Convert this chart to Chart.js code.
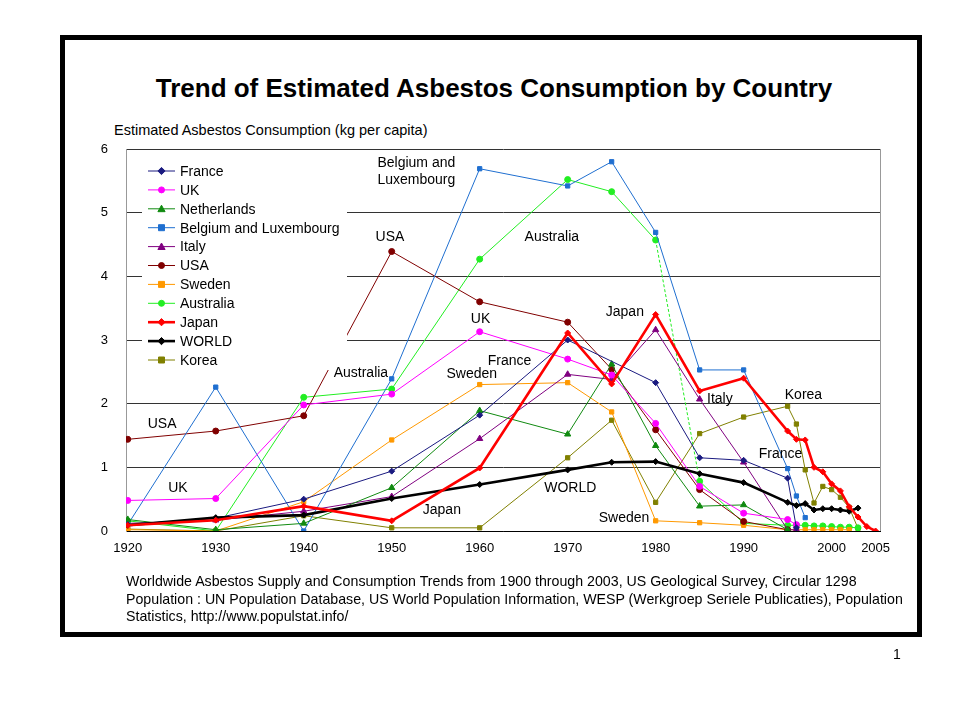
<!DOCTYPE html>
<html>
<head>
<meta charset="utf-8">
<title>Trend of Estimated Asbestos Consumption by Country</title>
<script src="https://cdn.jsdelivr.net/npm/chart.js@4.4.1/dist/chart.umd.min.js"></script>
<style>
    html, body { margin: 0; padding: 0; background: #fff; }
    body { width: 960px; height: 720px; position: relative; overflow: hidden;
           font-family: "Liberation Sans", Arial, sans-serif; color: #000; }
    .frame { position: absolute; left: 60px; top: 35px; width: 852px; height: 592px; border: 5px solid #000; }
    .title { position: absolute; left: 60px; width: 868px; top: 73px; text-align: center;
             font-size: 26px; font-weight: bold; line-height: 30px; }
    .ylabel { position: absolute; left: 114px; top: 122px; font-size: 14.5px; line-height: 16px; }
    .source { position: absolute; left: 126px; top: 573px; font-size: 14.2px; line-height: 17.5px; width: 800px; }
    .page { position: absolute; left: 893px; top: 646px; font-size: 14px; }
    #chart { position: absolute; left: 0; top: 0; }
</style>
</head>
<body>
<div class="frame"></div>
<div class="title">Trend of Estimated Asbestos Consumption by Country</div>
<div class="ylabel">Estimated Asbestos Consumption (kg per capita)</div>
<canvas id="chart" width="960" height="720"></canvas>
<div class="source">Worldwide Asbestos Supply and Consumption Trends from 1900 through 2003, US Geological Survey, Circular 1298<br>
Population : UN Population Database, US World Population Information, WESP (Werkgroep Seriele Publicaties), Population<br>
Statistics, http://www.populstat.info/</div>
<div class="page">1</div>

<script>
// values (kg per capita)
const xTickYears = [1920, 1930, 1940, 1950, 1960, 1970, 1980, 1990, 2000, 2005];

const franceYears  = [1920, 1930, 1940, 1950, 1960, 1970, 1980, 1985, 1990, 1995, 1996];
const franceValues = [0.10, 0.20, 0.50, 0.94, 1.82, 3.00, 2.33, 1.15, 1.11, 0.83, 0.05];

const ukYears  = [1920, 1930, 1940, 1950, 1960, 1970, 1975, 1980, 1985, 1990, 1995, 1996];
const ukValues = [0.48, 0.51, 1.98, 2.15, 3.13, 2.70, 2.45, 1.69, 0.70, 0.28, 0.18, 0.10];

const netherlandsYears  = [1920, 1930, 1940, 1950, 1960, 1970, 1975, 1980, 1985, 1990, 1995];
const netherlandsValues = [0.18, 0.02, 0.12, 0.68, 1.89, 1.52, 2.62, 1.34, 0.39, 0.41, 0.02];

const belgiumYears  = [1920, 1930, 1940, 1950, 1960, 1970, 1975, 1980, 1985, 1990, 1995, 1996, 1997];
const belgiumValues = [0.10, 2.26, 0.00, 2.39, 5.69, 5.42, 5.80, 4.69, 2.53, 2.53, 0.98, 0.55, 0.21];

const italyYears  = [1920, 1930, 1940, 1950, 1960, 1970, 1975, 1980, 1985, 1990, 1995, 1996];
const italyValues = [0.12, 0.17, 0.31, 0.54, 1.45, 2.46, 2.38, 3.16, 2.07, 1.08, 0.02, 0.02];

const usaYears  = [1920, 1930, 1940, 1950, 1960, 1970, 1975, 1980, 1985, 1990, 1995];
const usaValues = [1.44, 1.57, 1.81, 4.39, 3.60, 3.28, 2.54, 1.59, 0.65, 0.15, 0.02];

const swedenYears  = [1920, 1930, 1940, 1950, 1960, 1970, 1975, 1980, 1985, 1990,
                      1995, 1996, 1997, 1998, 1999, 2000, 2001, 2002];
const swedenValues = [0.02, 0.00, 0.46, 1.43, 2.30, 2.33, 1.87, 0.16, 0.13, 0.09,
                      0.02, 0.02, 0.02, 0.02, 0.02, 0.02, 0.02, 0.02];

const australiaYears  = [1920, 1930, 1940, 1950, 1960, 1970, 1975, 1980, 1985, 1990,
                         1995, 1996, 1997, 1998, 1999, 2000, 2001, 2002, 2003];
const australiaValues = [0.16, 0.00, 2.10, 2.23, 4.27, 5.52, 5.33, 4.57, 0.78, 0.12,
                         0.09, 0.09, 0.09, 0.08, 0.08, 0.07, 0.06, 0.06, 0.05];

const japanYears  = [1920, 1930, 1940, 1950, 1960, 1970, 1975, 1980, 1985, 1990,
                     1995, 1996, 1997, 1998, 1999, 2000, 2001, 2002, 2003, 2004, 2005];
const japanValues = [0.09, 0.17, 0.39, 0.16, 0.99, 3.11, 2.31, 3.40, 2.20, 2.40,
                     1.57, 1.44, 1.43, 1.00, 0.93, 0.74, 0.63, 0.38, 0.22, 0.07, 0.00];

const worldYears  = [1920, 1930, 1940, 1950, 1960, 1970, 1975, 1980, 1985, 1990,
                     1995, 1996, 1997, 1998, 1999, 2000, 2001, 2002, 2003];
const worldValues = [0.09, 0.21, 0.25, 0.51, 0.73, 0.96, 1.08, 1.09, 0.90, 0.76,
                     0.45, 0.40, 0.43, 0.33, 0.35, 0.35, 0.33, 0.31, 0.36];

const koreaYears  = [1920, 1930, 1940, 1950, 1960, 1970, 1975, 1980, 1985, 1990,
                     1995, 1996, 1997, 1998, 1999, 2000, 2001, 2002, 2003];
const koreaValues = [0.03, 0.00, 0.24, 0.05, 0.05, 1.15, 1.74, 0.45, 1.53, 1.79,
                     1.96, 1.68, 0.96, 0.44, 0.70, 0.65, 0.53, 0.37, 0.04];

// text labels placed on the plot, anchored in data units (year, kg)
const noteTexts  = ['Belgium and|Luxembourg', 'USA', 'Australia', 'Japan', 'UK', 'France', 'Sweden',
                    'Australia', 'USA', 'UK', 'Japan', 'WORLD', 'Italy', 'Korea', 'France', 'Sweden'];
const noteYears  = [1952.8, 1949.8, 1968.2, 1976.5, 1960.1, 1963.4, 1959.1,
                    1946.5, 1923.9, 1925.7, 1955.7, 1970.3, 1987.3, 1996.8, 1994.2, 1976.4];
const noteValues = [5.64, 4.62, 4.62, 3.44, 3.32, 2.67, 2.46,
                    2.48, 1.68, 0.68, 0.33, 0.68, 2.07, 2.14, 1.20, 0.20];

function series(label, years, values, color, pointStyle, lineWidth) {
    return {
        label: label,
        data: years.map((y, i) => ({ x: y, y: values[i] })),
        borderColor: color,
        backgroundColor: color,
        pointBackgroundColor: color,
        pointBorderColor: color,
        borderWidth: lineWidth || 1,
        pointStyle: pointStyle,
        pointRadius: pointStyle === 'triangle' ? 3.6 : 3,
        pointBorderWidth: 1,
        tension: 0,
        order: lineWidth ? 0 : 1
    };
}

const datasets = [
    series('France', franceYears, franceValues, '#1a1a80', 'rectRot'),
    series('UK', ukYears, ukValues, '#ff00ff', 'circle'),
    series('Netherlands', netherlandsYears, netherlandsValues, '#108a10', 'triangle'),
    series('Belgium and Luxembourg', belgiumYears, belgiumValues, '#1f6fd0', 'rect'),
    series('Italy', italyYears, italyValues, '#800080', 'triangle'),
    series('USA', usaYears, usaValues, '#800000', 'circle'),
    series('Sweden', swedenYears, swedenValues, '#ff9900', 'rect'),
    series('Australia', australiaYears, australiaValues, '#22ee22', 'circle'),
    series('Japan', japanYears, japanValues, '#ff0000', 'rectRot', 2.6),
    series('WORLD', worldYears, worldValues, '#000000', 'rectRot', 2.6),
    series('Korea', koreaYears, koreaValues, '#808000', 'rect')
];
// the Australia 1980-1985 stretch is dashed on the slide
datasets[7].segment = { borderDash: ctx => ctx.p0.parsed.x === 1980 ? [3, 2] : undefined };

function drawMarker(ctx, style, r, x, y) {
    ctx.beginPath();
    if (style === 'circle') {
        ctx.arc(x, y, r, 0, Math.PI * 2);
    } else if (style === 'rect') {
        ctx.rect(x - r, y - r, r * 2, r * 2);
    } else if (style === 'rectRot') {
        ctx.moveTo(x, y - r - 0.6); ctx.lineTo(x + r + 0.6, y);
        ctx.lineTo(x, y + r + 0.6); ctx.lineTo(x - r - 0.6, y);
        ctx.closePath();
    } else if (style === 'triangle') {
        ctx.moveTo(x, y - r); ctx.lineTo(x + r, y + r * 0.8); ctx.lineTo(x - r, y + r * 0.8);
        ctx.closePath();
    }
    ctx.fill();
    ctx.stroke();
}

const slidePlugin = {
    id: 'slide',
    beforeDatasetsDraw(chart) {
        const a = chart.chartArea;
        const ctx = chart.ctx;
        ctx.save();
        ctx.strokeStyle = '#999';
        ctx.lineWidth = 1;
        ctx.beginPath();
        ctx.moveTo(a.right + 0.5, a.top);
        ctx.lineTo(a.right + 0.5, a.bottom);
        ctx.stroke();
        ctx.restore();
    },
    afterDatasetsDraw(chart) {
        const ctx = chart.ctx;
        const xs = chart.scales.x;
        const ys = chart.scales.y;
        ctx.save();

        // legend box sits inside the plot and hides what is under it
        ctx.fillStyle = '#fff';
        ctx.fillRect(142, 152, 205, 218);
        ctx.font = '14px "Liberation Sans", Arial, sans-serif';
        ctx.textBaseline = 'middle';
        ctx.textAlign = 'left';
        chart.data.datasets.forEach((ds, i) => {
            const ly = 171 + i * 18.9;
            ctx.strokeStyle = ds.borderColor;
            ctx.lineWidth = ds.borderWidth;
            ctx.beginPath();
            ctx.moveTo(148, ly);
            ctx.lineTo(175, ly);
            ctx.stroke();
            ctx.fillStyle = ds.pointBackgroundColor;
            ctx.lineWidth = 1;
            drawMarker(ctx, ds.pointStyle, ds.pointRadius, 161.5, ly);
            ctx.fillStyle = '#000';
            ctx.fillText(ds.label, 180, ly + 1);
        });

        // labels on the plot
        ctx.textAlign = 'center';
        ctx.fillStyle = '#000';
        noteTexts.forEach((t, i) => {
            const px = xs.getPixelForValue(noteYears[i]);
            const py = ys.getPixelForValue(noteValues[i]);
            const lines = t.split('|');
            lines.forEach((ln, k) => {
                ctx.fillText(ln, px, py + (k - (lines.length - 1) / 2) * 17);
            });
        });
        ctx.restore();
    }
};

Chart.defaults.font.family = '"Liberation Sans", Arial, sans-serif';
Chart.defaults.color = '#000';

new Chart(document.getElementById('chart'), {
    type: 'line',
    data: { datasets },
    options: {
        responsive: false,
        animation: false,
        events: [],
        layout: { padding: { top: 149, right: 80, left: 0, bottom: 0 } },
        plugins: {
            legend: { display: false },
            tooltip: { enabled: false }
        },
        scales: {
            x: {
                type: 'linear',
                min: 1919.8,
                max: 2005.5,
                afterFit: s => { s.height = 189; },
                afterBuildTicks: s => { s.ticks = xTickYears.map(v => ({ value: v })); },
                grid: { display: false, drawTicks: false },
                border: { color: '#000', width: 1 },
                ticks: { padding: 10, font: { size: 13 }, color: '#000', callback: v => String(v) }
            },
            y: {
                min: 0,
                max: 6,
                afterFit: s => { s.width = 126; },
                grid: { color: '#333', lineWidth: 1, drawTicks: false },
                border: { color: '#999', width: 1 },
                ticks: { stepSize: 1, padding: 18, font: { size: 13 }, color: '#000' }
            }
        }
    },
    plugins: [slidePlugin]
});
</script>
</body>
</html>
